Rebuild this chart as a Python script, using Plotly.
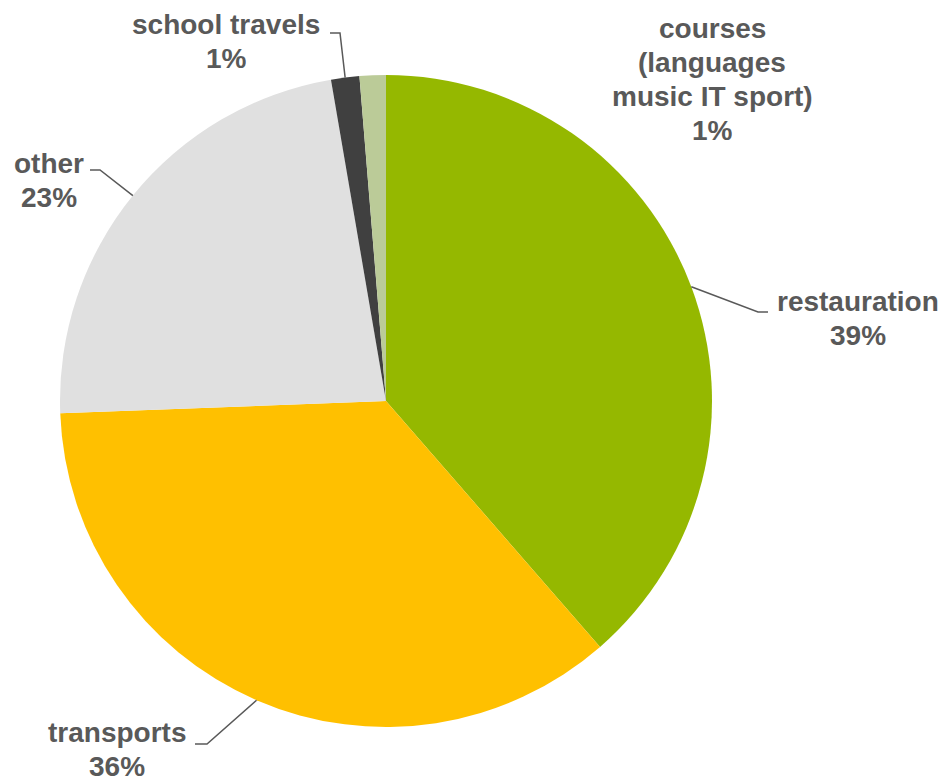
import math
import plotly.graph_objects as go

# slices, clockwise from 12 o'clock
labels = ["restauration", "transports", "other", "school travels", "courses"]
label_lines = [["restauration"], ["transports"], ["other"], ["school travels"],
               ["courses", "(languages", "music IT sport)"]]
values = [38.6, 35.8, 22.9, 1.4, 1.3]
colors = ["#95B800", "#FFC000", "#E0E0E0", "#404040", "#BBCB98"]

OFF = 8                     # page body margin
W, H = 947 - OFF, 783 - OFF
cx, cy, r = 386, 401, 326   # pie centre / radius in page px
FS = 28
STEP = 34

# label block: centre x and first baseline y (page px); leader elbow, None = no leader
label_pos = [(858, 310), (117, 741), (49, 172), (226, 33), (712, 37)]
elbows = [((758, 312), (768, 312)), ((207, 744), (195, 744)),
          ((100, 170), (90, 170)), ((340, 33), (330, 33)), None]

def px(x, y):
    return (x - OFF) / W, 1 - (y - OFF) / H

fig = go.Figure()
fig.add_trace(go.Pie(
    labels=labels, values=values, sort=False, direction="clockwise",
    marker=dict(colors=colors, line=dict(width=0)),
    textinfo="none", hoverinfo="label+percent", showlegend=False,
    domain=dict(x=[(cx - r - OFF) / W, (cx + r - OFF) / W],
                y=[1 - (cy + r - OFF) / H, 1 - (cy - r - OFF) / H]),
))

total = sum(values)
start = 0
shapes = []
annotations = []
for lines, v, pos, elb in zip(label_lines, values, label_pos, elbows):
    mid = (start + v / 2) / total * 2 * math.pi
    start += v
    ex = cx + r * math.sin(mid)
    ey = cy - r * math.cos(mid)
    if elb:
        p0 = px(ex, ey); p1 = px(*elb[0]); p2 = px(*elb[1])
        shapes.append(dict(type="path", xref="paper", yref="paper",
                           path=f"M {p0[0]},{p0[1]} L {p1[0]},{p1[1]} L {p2[0]},{p2[1]}",
                           line=dict(color="#595959", width=1.5)))
    texts = lines + [f"{round(v / total * 100)}%"]
    for i, t in enumerate(texts):
        tx, ty = px(pos[0], pos[1] + i * STEP - 0.31 * FS)
        ann = dict(x=tx, y=ty, xref="paper", yref="paper", showarrow=False,
                   xanchor="center", yanchor="middle", text=f"<b>{t}</b>",
                   font=dict(family="Arial, Liberation Sans", size=FS, color="#595959"))
        if i == len(texts) - 1:
            ann["height"] = 30   # percent line has no descenders
        annotations.append(ann)

fig.update_layout(width=W, height=H, margin=dict(l=0, r=0, t=0, b=0),
                  paper_bgcolor="white", plot_bgcolor="white",
                  shapes=shapes, annotations=annotations)
fig.write_html("out.html")
